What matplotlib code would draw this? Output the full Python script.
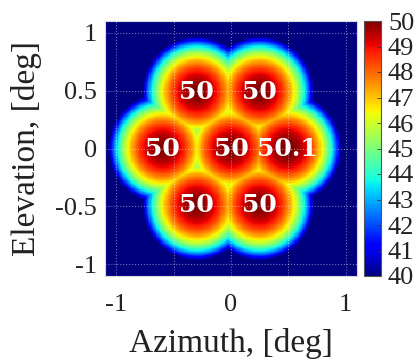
import numpy as np
import matplotlib
matplotlib.use("Agg")
import matplotlib.pyplot as plt

plt.rcParams["font.family"] = ["Liberation Serif", "DejaVu Serif"]
plt.rcParams["axes.unicode_minus"] = False

# Beam centres (deg) and peak gains (dB)
beam_az = [0.0, -0.60, 0.49, -0.30, 0.25, -0.30, 0.25]
beam_el = [0.0, 0.0, 0.0, 0.49, 0.49, -0.49, -0.49]
beam_peak = [50.0, 50.0, 50.1, 50.0, 50.0, 50.0, 50.0]

xtick_vals = [-1, -0.5, 0, 0.5, 1]
xtick_labels = ["-1", "", "0", "", "1"]
ytick_vals = [-1, -0.5, 0, 0.5, 1]
ytick_labels = ["-1", "-0.5", "0", "0.5", "1"]
cbar_ticks = list(range(40, 51))

lim = 1.1
u_scale = 5.75  # Bessel argument per degree off boresight

# Circular-aperture pattern 2*J1(u)/u from a lookup table
u_tab = np.linspace(0, 14, 5001)
tau = np.linspace(0, np.pi, 801)
j1 = np.trapezoid(np.cos(tau[None, :] - u_tab[:, None] * np.sin(tau[None, :])),
                  tau, axis=1) / np.pi
with np.errstate(divide="ignore", invalid="ignore"):
    amp = np.where(u_tab > 0, 2 * j1 / u_tab, 1.0)
amp_db = 20 * np.log10(np.maximum(np.abs(amp), 1e-6))

az = np.linspace(-lim, lim, 221)
el = np.linspace(-lim, lim, 221)
AZ, EL = np.meshgrid(az, el)
gain = np.full(AZ.shape, -np.inf)
for a0, e0, pk in zip(beam_az, beam_el, beam_peak):
    u = u_scale * np.hypot(AZ - a0, EL - e0)
    gain = np.maximum(gain, pk + np.interp(u, u_tab, amp_db))

fig = plt.figure(figsize=(4.18, 3.6), dpi=100)
ax = fig.add_axes([105 / 418, 1 - 276 / 360, 252 / 418, 255 / 360])
im = ax.imshow(gain, origin="lower", extent=[-lim, lim, -lim, lim],
               cmap="jet", vmin=40, vmax=50, aspect="auto",
               interpolation="nearest")

for a0, e0, pk in zip(beam_az, beam_el, beam_peak):
    ax.text(a0, e0, f"{pk:g}", color="white", family="DejaVu Serif",
            fontweight="bold", fontsize=18, ha="center", va="center",
            zorder=4)

ax.set_xlim(-lim, lim)
ax.set_ylim(-lim, lim)
ax.set_xticks(xtick_vals)
ax.set_xticklabels(xtick_labels)
ax.set_yticks(ytick_vals)
ax.set_yticklabels(ytick_labels)
ax.grid(True, linestyle=":", color="white", alpha=0.45, linewidth=0.8)
ax.set_axisbelow(False)
ax.tick_params(axis="both", length=0, labelsize=19, colors="#222222")
ax.tick_params(axis="x", pad=13)
ax.tick_params(axis="y", pad=6)
for sp in ax.spines.values():
    sp.set_color("#d8d8d8")
    sp.set_linewidth(0.8)

ax.set_xlabel("Azimuth, [deg]", fontsize=24, color="#222222")
ax.set_ylabel("Elevation, [deg]", fontsize=24, color="#222222")
ax.xaxis.set_label_coords(0.5, -0.205)
ax.yaxis.set_label_coords(-0.25, 0.5)

cax = fig.add_axes([364 / 418, 1 - 276 / 360, 17 / 418, 255 / 360])
cb = fig.colorbar(im, cax=cax, ticks=cbar_ticks)
cb.ax.tick_params(direction="in", length=3, width=0.6, color="#333333",
                  labelsize=19, labelcolor="#222222", pad=5)
cb.outline.set_edgecolor("#555555")
cb.outline.set_linewidth(0.8)

fig.savefig("out.png", dpi=100)
